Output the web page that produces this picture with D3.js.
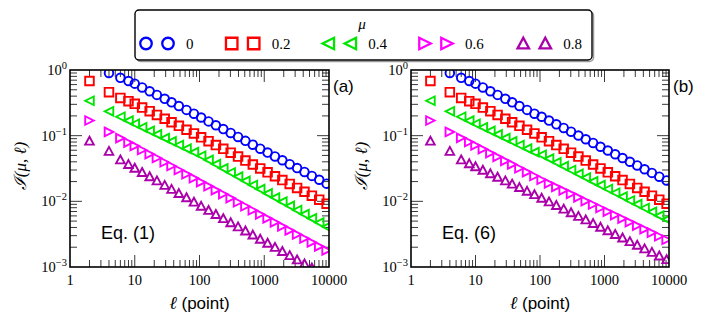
<!DOCTYPE html>
<html><head><meta charset="utf-8">
<script src="https://cdn.jsdelivr.net/npm/d3@7"></script>
<style>body{margin:0;background:#fff}svg{display:block}</style>
</head><body>
<svg id="c" width="706" height="322"></svg>
<script>
// ---- data ----
const ells = [2,4,6,8,10,13,17,22,29,37,48,63,82,106,138,179,233,303,394,512,666,866,1126,1464,1903,2474,3216,4181,5435,7066,9186];
const muLabels = ["0","0.2","0.4","0.6","0.8"];
const xTickLabels = ["1","10","100","1000","10000"];
const yTickExps = ["0","\u22121","\u22122","\u22123"];

const blueA = [null,0.90,0.76,0.68,0.62,0.543,0.475,0.418,0.364,0.322,0.283,0.247,0.216,0.189,0.165,0.144,0.126,0.110,0.0957,0.0834,0.0728,0.0634,0.0553,0.0483,0.0422,0.0368,0.0321,0.0280,0.0244,0.0213,0.0186];
const redA = [0.68,0.46,0.375,0.335,0.305,0.268,0.236,0.207,0.181,0.160,0.141,0.123,0.108,0.0945,0.0825,0.072,0.063,0.055,0.048,0.0418,0.0364,0.0317,0.0277,0.0241,0.0211,0.0184,0.0160,0.0140,0.0122,0.0106,0.0092];
const greenA = [0.34,0.235,0.194,0.169,0.152,0.134,0.118,0.1045,0.0917,0.0817,0.0721,0.0634,0.0560,0.0494,0.0427,0.0369,0.0318,0.0275,0.0238,0.0205,0.0177,0.0153,0.0132,0.0114,0.00987,0.00853,0.00736,0.00637,0.00550,0.00475,0.00410];
const magentaA = [0.17,0.114,0.0917,0.0785,0.0697,0.0605,0.0525,0.0457,0.0394,0.0345,0.0300,0.0259,0.0225,0.0196,0.0170,0.0148,0.0129,0.0112,0.00968,0.00841,0.00731,0.00634,0.00551,0.00479,0.00416,0.00361,0.00313,0.00272,0.00237,0.00206,0.00179];
const purpleA = [0.083,0.058,0.043,0.0365,0.0321,0.0277,0.0238,0.0206,0.0176,0.0153,0.0132,0.0114,0.00977,0.00845,0.00731,0.00634,0.00548,0.00474,0.00411,0.00356,0.00308,0.00266,0.00231,0.00200,0.00173,0.00150,0.00129,0.00112,0.00097,0.00084,0.00073];

const blueB = [null,0.90,0.76,0.68,0.62,0.543,0.475,0.418,0.364,0.322,0.283,0.247,0.216,0.194,0.170,0.149,0.131,0.115,0.1005,0.0882,0.0774,0.0678,0.0594,0.0521,0.0457,0.0401,0.0352,0.0308,0.0271,0.0237,0.0208];
const redB = [0.68,0.46,0.375,0.335,0.305,0.268,0.236,0.207,0.181,0.160,0.141,0.123,0.108,0.0945,0.0825,0.072,0.063,0.055,0.048,0.0418,0.0364,0.0317,0.0277,0.0241,0.0211,0.0184,0.0160,0.0140,0.0122,0.0106,0.0092];
const greenB = [0.34,0.235,0.194,0.169,0.152,0.134,0.118,0.1045,0.0917,0.0817,0.0721,0.0634,0.0560,0.0511,0.0447,0.0392,0.0343,0.0300,0.0262,0.0230,0.0201,0.0176,0.0154,0.0135,0.0118,0.0103,0.00904,0.00791,0.00692,0.00605,0.00530];
const magentaB = [0.17,0.114,0.0927,0.0800,0.0713,0.0624,0.0543,0.0476,0.0413,0.0365,0.0319,0.0278,0.0243,0.0213,0.0188,0.0166,0.0147,0.0130,0.0115,0.0101,0.00895,0.00791,0.00698,0.00618,0.00547,0.00483,0.00427,0.00377,0.00333,0.00294,0.00260];
const purpleB = [0.083,0.058,0.043,0.0375,0.0338,0.0299,0.0264,0.0234,0.0206,0.0184,0.0163,0.0143,0.0127,0.0112,0.00986,0.00871,0.00766,0.00675,0.00594,0.00524,0.00461,0.00406,0.00358,0.00315,0.00278,0.00245,0.00216,0.00190,0.00168,0.00148,0.00130];

const colors = ["#0000ff","#ff0000","#00e600","#ff00ff","#aa00aa"];
const shapes = ["circle","square","left","right","up"];

// ---- drawing ----
const svg = d3.select("#c");
const serif = "Liberation Serif, DejaVu Serif, serif";
const sans = "Liberation Sans, Arial, sans-serif";

function markerPath(shape, s) {
  const h = s/2;
  if (shape === "square") return `M${-h},${-h}H${h}V${h}H${-h}Z`;
  if (shape === "left") return `M${-h},0L${h},${-h}L${h},${h}Z`;
  if (shape === "right") return `M${h},0L${-h},${-h}L${-h},${h}Z`;
  if (shape === "up") return `M0,${-h}L${h},${h*0.85}L${-h},${h*0.85}Z`;
  return null;
}
function drawMarker(g, shape, color, x, y, s, sw) {
  if (shape === "circle") {
    g.append("circle").attr("cx", x).attr("cy", y).attr("r", s/2)
      .attr("fill","none").attr("stroke",color).attr("stroke-width",sw);
  } else {
    g.append("path").attr("d", markerPath(shape, s)).attr("transform",`translate(${x},${y})`)
      .attr("fill","none").attr("stroke",color).attr("stroke-width",sw).attr("stroke-linejoin","miter");
  }
}

function panel(x0, x1, series, tag, eq, id) {
  const y0 = 267, y1 = 70;
  const x = d3.scaleLog().domain([1,10000]).range([x0,x1]);
  const y = d3.scaleLog().domain([1e-3,1]).range([y0,y1]);
  const g = svg.append("g");

  svg.append("clipPath").attr("id","clip"+id).append("rect")
    .attr("x",x0).attr("y",y1).attr("width",x1-x0).attr("height",y0-y1);

  // ticks
  const tg = g.append("g").attr("stroke","#222").attr("stroke-width",0.9);
  x.ticks().forEach(t => {
    const maj = Math.abs(Math.log10(t) - Math.round(Math.log10(t))) < 1e-9;
    const L = maj ? 12 : 7;
    const px = x(t);
    if (px <= x0+0.5 || px >= x1-0.5) return;
    tg.append("line").attr("x1",px).attr("x2",px).attr("y1",y0).attr("y2",y0-L);
    tg.append("line").attr("x1",px).attr("x2",px).attr("y1",y1).attr("y2",y1+L);
  });
  y.ticks().forEach(t => {
    const maj = Math.abs(Math.log10(t) - Math.round(Math.log10(t))) < 1e-9;
    const L = maj ? 12 : 7;
    const py = y(t);
    if (py <= y1+0.5 || py >= y0-0.5) return;
    tg.append("line").attr("y1",py).attr("y2",py).attr("x1",x0).attr("x2",x0+L);
    tg.append("line").attr("y1",py).attr("y2",py).attr("x1",x1).attr("x2",x1-L);
  });

  // data
  const dg = g.append("g").attr("clip-path",`url(#clip${id})`);
  series.forEach((vals, si) => {
    vals.forEach((v, i) => {
      if (v == null) return;
      drawMarker(dg, shapes[si], colors[si], x(ells[i]), y(v), 8.6, 1.9);
    });
  });

  // frame
  g.append("rect").attr("x",x0).attr("y",y1).attr("width",x1-x0).attr("height",y0-y1)
    .attr("fill","none").attr("stroke","#000").attr("stroke-width",1.6);

  // x tick labels
  [1,10,100,1000,10000].forEach((t,i) => {
    g.append("text").attr("x",x(t)).attr("y",285).attr("text-anchor","middle")
      .attr("font-family",serif).attr("font-size",14.5).text(xTickLabels[i]);
  });
  // y tick labels
  [1,0.1,0.01,0.001].forEach((t,i) => {
    const tx = g.append("text").attr("x",x0-3).attr("y",y(t)+5).attr("text-anchor","end")
      .attr("font-family",serif).attr("font-size",14.5);
    tx.append("tspan").text("10");
    tx.append("tspan").attr("dy",-6).attr("font-size",10.5).text(yTickExps[i]);
  });

  // axis labels
  const xl = g.append("text").attr("x",(x0+x1)/2).attr("y",309).attr("text-anchor","middle");
  xl.append("tspan").attr("font-family",serif).attr("font-style","italic").attr("font-size",18).text("\u2113");
  xl.append("tspan").attr("font-family",sans).attr("font-size",17).text(" (point)");

  g.append("text").attr("transform",`translate(${x0-44},${166}) rotate(-90)`)
    .attr("text-anchor","middle").attr("font-family",serif).attr("font-style","italic").attr("font-size",17)
    .text("\u2110(\u03bc, \u2113)");

  g.append("text").attr("x",x1+4).attr("y",92).attr("font-family",sans).attr("font-size",17).text(tag);
  g.append("text").attr("x",x0+31).attr("y",239).attr("font-family",sans).attr("font-size",18).text(eq);
}

panel(70, 329, [blueA,redA,greenA,magentaA,purpleA], "(a)", "Eq. (1)", "a");
panel(411, 669, [blueB,redB,greenB,magentaB,purpleB], "(b)", "Eq. (6)", "b");

// legend
const lg = svg.append("g");
lg.append("rect").attr("x",136.5).attr("y",11.5).attr("width",457).attr("height",50).attr("rx",4)
  .attr("fill","none").attr("stroke","#999").attr("stroke-width",1.5);
lg.append("rect").attr("x",135).attr("y",10).attr("width",457).attr("height",50).attr("rx",4)
  .attr("fill","#fff").attr("stroke","#000").attr("stroke-width",1.4);
lg.append("text").attr("x",362).attr("y",29).attr("text-anchor","middle").attr("font-family",serif)
  .attr("font-style","italic").attr("font-size",15).text("\u03bc");
const legX = [146, 231.7, 328.3, 425, 523.3];
muLabels.forEach((lab, i) => {
  drawMarker(lg, shapes[i], colors[i], legX[i], 43.5, 11.5, 2.3);
  drawMarker(lg, shapes[i], colors[i], legX[i]+22, 43.5, 11.5, 2.3);
  lg.append("text").attr("x",legX[i]+40).attr("y",48.5).attr("font-family",serif)
    .attr("font-size",15).text(lab);
});
</script>
</body></html>
